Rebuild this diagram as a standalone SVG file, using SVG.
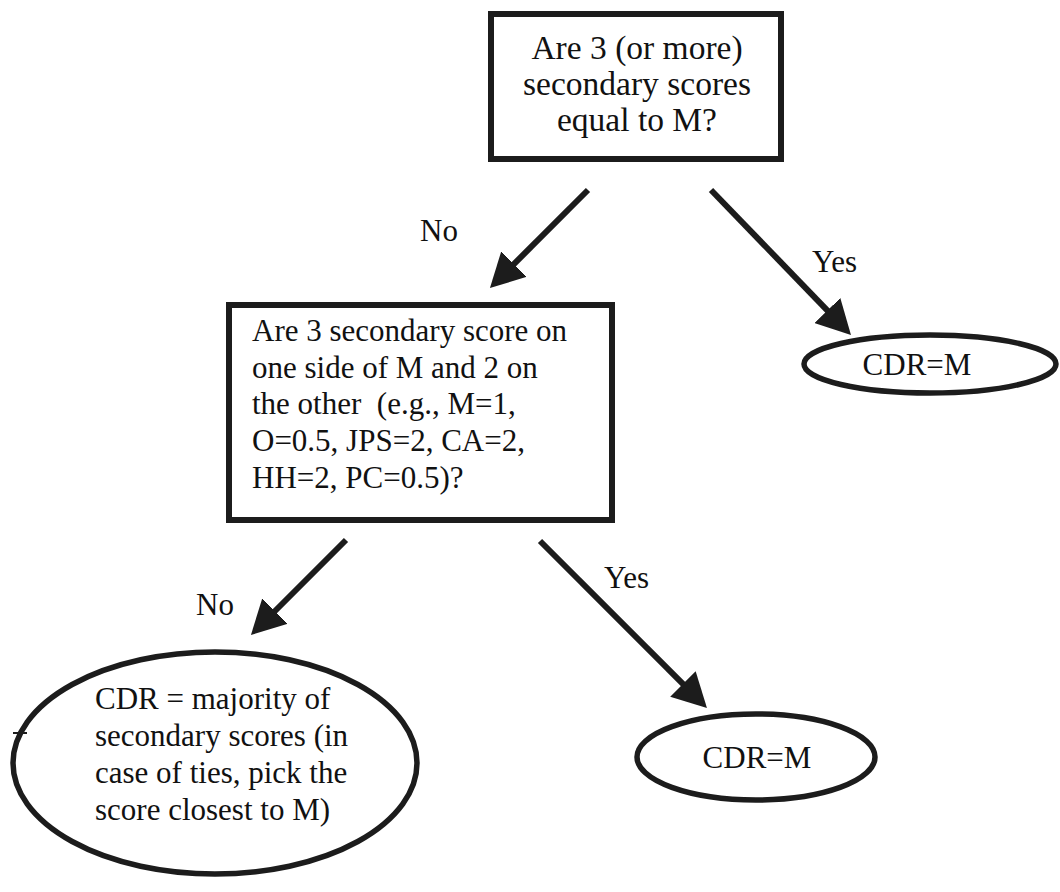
<svg xmlns="http://www.w3.org/2000/svg" width="1060" height="892" viewBox="0 0 1060 892">
<style>
text { font-family: 'Liberation Serif', 'Times New Roman', serif; font-size: 31px; fill: #111; }
.c { text-anchor: middle; }
.big { font-size: 33.5px; }
.box { fill: #fff; stroke: #1c1c1c; stroke-width: 6; }
.ell { fill: #fff; stroke: #1c1c1c; stroke-width: 5.5; }
.arrow { stroke: #1c1c1c; stroke-width: 6; fill: none; marker-end: url(#ah); }
</style>
<defs>
<marker id="ah" markerUnits="userSpaceOnUse" markerWidth="36" markerHeight="36" refX="12" refY="18" orient="auto" viewBox="0 0 36 36">
<path d="M0,0 L34,18 L0,36 z" fill="#1c1c1c"/>
</marker>
</defs>
<rect width="1060" height="892" fill="#fff"/>
<g id="q1">
<rect class="box" x="491" y="14" width="290" height="145"/>
<text class="c big" x="637" y="59">Are 3 (or more)</text>
<text class="c big" x="637" y="95">secondary scores</text>
<text class="c big" x="637" y="131">equal to M?</text>
</g>
<g id="q2">
<rect class="box" x="229" y="305" width="383" height="215"/>
<text x="252" y="341">Are 3 secondary score on</text>
<text x="252" y="378">one side of M and 2 on</text>
<text x="252" y="414" xml:space="preserve">the other  (e.g., M=1,</text>
<text x="252" y="451">O=0.5, JPS=2, CA=2,</text>
<text x="252" y="488">HH=2, PC=0.5)?</text>
</g>
<g id="r1">
<ellipse class="ell" cx="930" cy="364" rx="126" ry="29"/>
<text class="c" x="917" y="375" font-size="32">CDR=M</text>
</g>
<g id="r2">
<ellipse class="ell" cx="756" cy="757" rx="119" ry="43"/>
<text class="c" x="757" y="768" font-size="32">CDR=M</text>
</g>
<g id="r3">
<ellipse class="ell" cx="215" cy="763" rx="202" ry="111"/>
<text x="95" y="709">CDR = majority of</text>
<text x="95" y="746">secondary scores (in</text>
<text x="95" y="783">case of ties, pick the</text>
<text x="95" y="820">score closest to M)</text>
<line x1="13" y1="733" x2="27" y2="733" stroke="#1c1c1c" stroke-width="2"/>
</g>
<g id="connectors">
<line class="arrow" x1="588" y1="190" x2="505.5" y2="272.5"/>
<line class="arrow" x1="711" y1="190" x2="835.7" y2="319.1"/>
<line class="arrow" x1="346" y1="540" x2="266.5" y2="619.5"/>
<line class="arrow" x1="540" y1="541" x2="691.4" y2="692.4"/>
<text x="420" y="241">No</text>
<text x="812" y="272">Yes</text>
<text x="196" y="615">No</text>
<text x="604" y="588">Yes</text>
</g>
</svg>
